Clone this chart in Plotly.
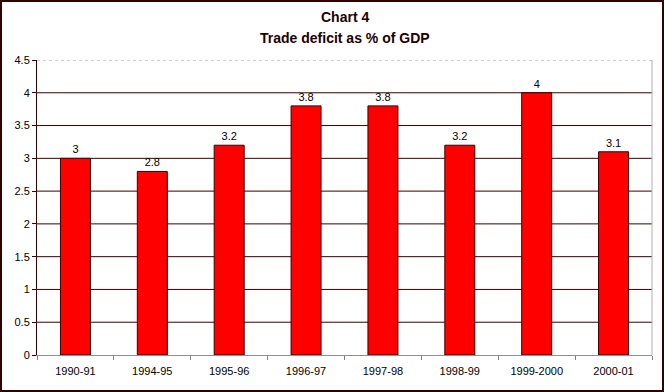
import plotly.graph_objects as go

categories = ["1990-91", "1994-95", "1995-96", "1996-97", "1997-98", "1998-99", "1999-2000", "2000-01"]
values = [3, 2.8, 3.2, 3.8, 3.8, 3.2, 4, 3.1]
y_ticks = [0, 0.5, 1, 1.5, 2, 2.5, 3, 3.5, 4, 4.5]
y_tick_labels = ["0", "0.5", "1", "1.5", "2", "2.5", "3", "3.5", "4", "4.5"]
title_lines = ["Chart 4", "Trade deficit as % of GDP"]

W, H = 664, 392
L, R, T, B = 37, 12, 60, 37
pw, ph = W - L - R, H - T - B

fig = go.Figure(go.Bar(
    x=categories, y=values,
    marker=dict(color="#ff0000", line=dict(color="#3a0000", width=1)),
    width=0.39,
    text=[str(v) for v in values], textposition="outside",
    textfont=dict(family="Liberation Sans, Arial", size=11, color="#000000"),
    cliponaxis=False,
))

shapes = []
for v in y_ticks[1:-1]:
    shapes.append(dict(type="line", xref="paper", yref="y", x0=0, x1=1, y0=v, y1=v,
                       line=dict(color="#380000", width=1), layer="below"))
shapes.append(dict(type="line", xref="paper", yref="y", x0=0, x1=1, y0=4.5, y1=4.5,
                   line=dict(color="#a0a0a0", width=1, dash="dot"), layer="below"))
shapes.append(dict(type="line", xref="paper", yref="y", x0=1, x1=1, y0=0, y1=4.5,
                   line=dict(color="#b0b0b0", width=1), layer="below"))
shapes.append(dict(type="rect", xref="paper", yref="paper",
                   x0=-(L - 1) / pw, x1=1 + (R - 1) / pw,
                   y0=-(B - 1) / ph, y1=1 + (T - 1) / ph,
                   line=dict(color="#330000", width=2)))

annotations = []
for txt, ypx in zip(title_lines, [17, 38]):
    annotations.append(dict(text="<b>" + txt + "</b>", xref="paper", yref="paper",
                            x=0.5, y=1 + (T - ypx) / ph, xanchor="center", yanchor="middle",
                            showarrow=False,
                            font=dict(family="Liberation Sans, Arial", size=14, color="#200000")))

fig.update_layout(
    width=W, height=H,
    margin=dict(l=L, r=R, t=T, b=B),
    paper_bgcolor="white", plot_bgcolor="white",
    showlegend=False,
    bargap=0.61,
    xaxis=dict(type="category", tickson="boundaries", ticks="outside", ticklen=4, tickcolor="#808080",
               showline=True, linecolor="#909090", linewidth=1, showgrid=False,
               ticklabelstandoff=6,
               tickfont=dict(family="Liberation Sans, Arial", size=11, color="#000000"),
               fixedrange=True),
    yaxis=dict(range=[0, 4.5], tickvals=y_ticks, ticktext=y_tick_labels,
               ticks="outside", ticklen=4, tickcolor="#400000",
               showline=True, linecolor="#400000", linewidth=1, showgrid=False,
               zeroline=False,
               tickfont=dict(family="Liberation Sans, Arial", size=11, color="#000000"),
               fixedrange=True),
    shapes=shapes,
    annotations=annotations,
)

fig.write_html("out.html", config={"displayModeBar": False},
               post_script="document.body.style.margin='0';document.body.style.overflow='hidden';")
